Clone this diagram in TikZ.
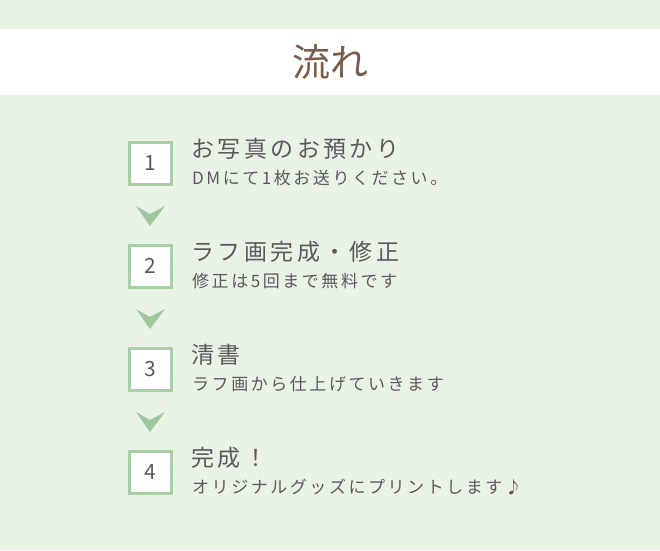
\documentclass[tikz,border=0pt]{standalone}
\usepackage{fontspec}
\setmainfont{Noto Sans CJK JP}
\newfontfamily\headfont[LetterSpace=15]{Noto Sans CJK JP}
\newfontfamily\subfont[LetterSpace=15]{Noto Sans CJK JP}
\definecolor{bggreen}{HTML}{E8F3E6}
\definecolor{boxgreen}{HTML}{A9CDA6}
\definecolor{arrowgreen}{HTML}{9FC69C}
\definecolor{titlebrown}{HTML}{7A5E4B}
\definecolor{textgray}{HTML}{5A5A5A}

\begin{document}
\begin{tikzpicture}[x=1pt,y=-1pt,
    numbox/.style={draw=boxgreen, line width=3pt, fill=white, minimum size=42pt,
        inner sep=0pt, text=textgray, font=\fontsize{21}{21}\selectfont},
    steptitle/.style={anchor=west, inner sep=0pt, text=textgray,
        font=\headfont\fontsize{23}{23}\selectfont},
    stepnote/.style={anchor=west, inner sep=0pt, text=textgray,
        font=\subfont\fontsize{17}{17}\selectfont}]
    % Background
    \fill[bggreen] (0,0) rectangle (660,550);

    % Title band
    \fill[white] (0,29) rectangle (660,95);
    \node[text=titlebrown, font=\fontsize{38}{38}\selectfont] (title) at (330,62) {流れ};

    % Steps
    \foreach \n/\y/\head/\sub in {
        1/163/お写真のお預かり/DMにて1枚お送りください。,
        2/266/ラフ画完成・修正/修正は5回まで無料です,
        3/369/清書/ラフ画から仕上げていきます,
        4/472/完成！/オリジナルグッズにプリントします♪} {
        \node[numbox] (box\n) at (150,\y) {\n};
        \node[steptitle] (head\n) at (191,\y-14) {\head};
        \node[stepnote] (note\n) at (192,\y+15) {\sub};
    }

    % Chevrons
    \foreach \t in {206, 309, 412} {
        \fill[arrowgreen] (136,\t) -- (150,\t+8) -- (165,\t) -- (150,\t+20) -- cycle;
    }
\end{tikzpicture}
\end{document}
